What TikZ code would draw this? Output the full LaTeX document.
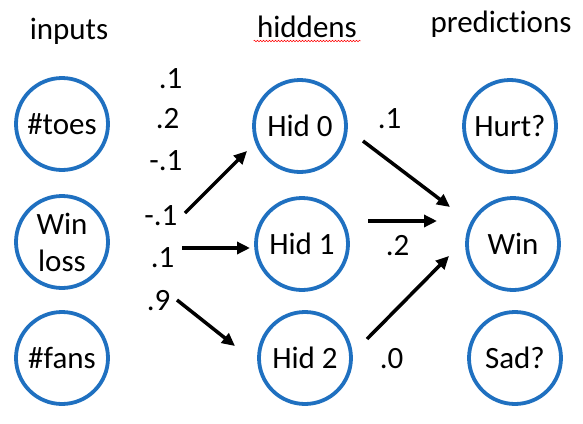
\documentclass[tikz,border=0pt]{standalone}
\usepackage{fontspec}
\setmainfont[Ligatures=NoCommon]{Carlito}
\usetikzlibrary{arrows.meta,positioning,decorations.pathmorphing}
\definecolor{unitblue}{RGB}{31,112,192}
\begin{document}
\begin{tikzpicture}[x=1pt,y=-1pt,
font=\fontsize{31}{37}\selectfont,
unit/.style={circle,draw=unitblue,line width=3.8pt,minimum size=92pt,inner sep=0pt,align=center},
title/.style={anchor=base},
weight/.style={anchor=base east},
arr/.style={-{Triangle[length=13pt,width=12pt]},line width=3.5pt}]
\useasboundingbox (0,0) rectangle (583,423);
% column titles
\node[title](inputs) at (69,39){inputs};
\node[title](hiddens) at (307,37){hiddens};
\node[title](predictions) at (501,32){predictions};
\draw[red,line width=0.5pt,decorate,decoration={snake,amplitude=0.8pt,segment length=3pt}]
  ([yshift=-4pt]hiddens.base west)--([yshift=-4pt]hiddens.base east);
% units
\node[unit](toes) at (62,124){\#toes};
\node[unit](winloss) at (62,242){Win\\loss};
\node[unit](fans) at (62,358){\#fans};
\node[unit](hid0) at (300,126){Hid 0};
\node[unit](hid1) at (302,244){Hid 1};
\node[unit](hid2) at (305,358){Hid 2};
\node[unit](hurt) at (510,126){Hurt?};
\node[unit](win) at (513,244){Win};
\node[unit](sad) at (515,358){Sad?};
% weights
\node[weight](wa) at (186,88){.1};
\node[weight](wb) at (183,128){.2};
\node[weight](wc) at (186,170){-.1};
\node[weight](wd) at (181,225){-.1};
\node[weight](we) at (178,267){.1};
\node[weight](wf) at (174,310){.9};
\node[weight](wg) at (405,128){.1};
\node[weight](wh) at (413,255){.2};
\node[weight](wi) at (407,368){.0};
% arrows
\coordinate(a1) at (185,213);\coordinate(b1) at (247,151);
\coordinate(a2) at (182,248);\coordinate(b2) at (250,248);
\coordinate(a3) at (177,300);\coordinate(b3) at (235,346);
\coordinate(a4) at (363,141);\coordinate(b4) at (450,207);
\coordinate(a5) at (368,221);\coordinate(b5) at (437,221);
\coordinate(a6) at (367,339);\coordinate(b6) at (449,256);
\draw[arr](a1)--(b1);
\draw[arr](a2)--(b2);
\draw[arr](a3)--(b3);
\draw[arr](a4)--(b4);
\draw[arr](a5)--(b5);
\draw[arr](a6)--(b6);
\end{tikzpicture}
\end{document}
